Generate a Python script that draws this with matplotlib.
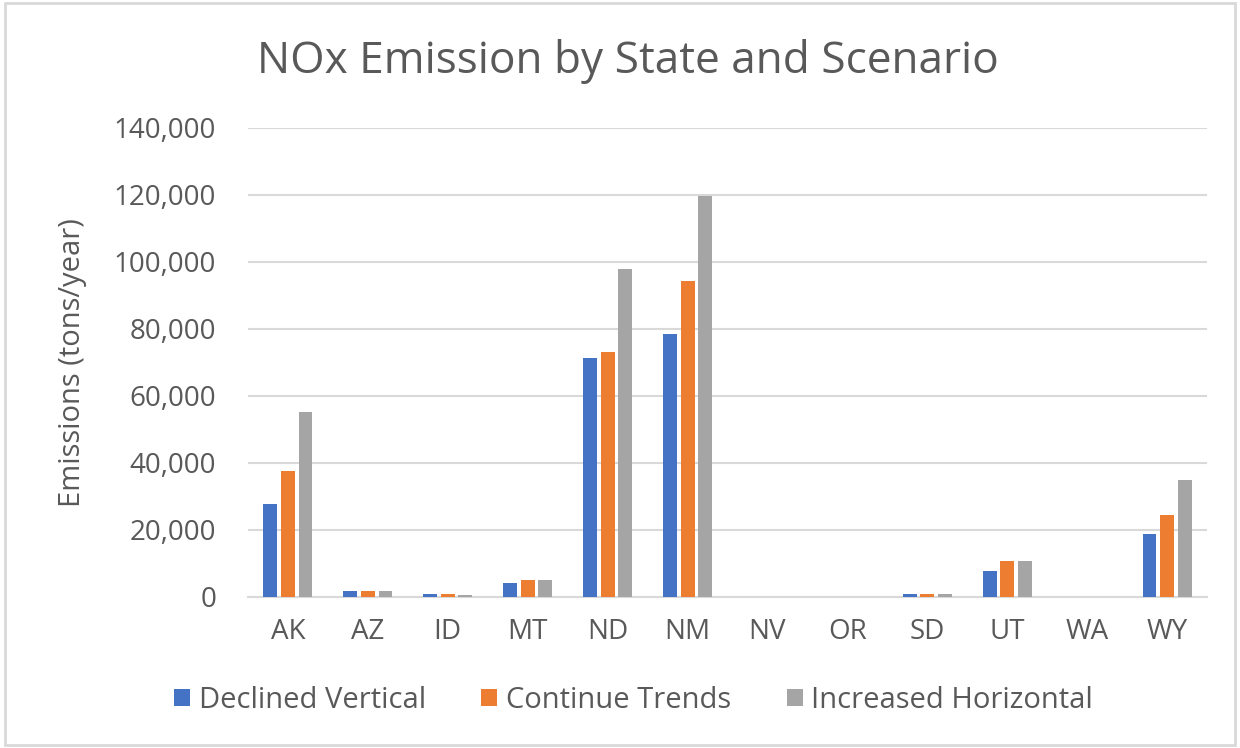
import numpy as np
import matplotlib
matplotlib.use("Agg")
from matplotlib import pyplot as plt
from matplotlib.patches import Rectangle
from matplotlib.ticker import FuncFormatter

plt.rcParams['font.family'] = ['Open Sans', 'DejaVu Sans']

states = ['AK', 'AZ', 'ID', 'MT', 'ND', 'NM', 'NV', 'OR', 'SD', 'UT', 'WA', 'WY']
declined_vertical = [27800, 1800, 900, 4100, 71300, 78500, 0, 0, 800, 7900, 0, 18800]
continue_trends = [37700, 1800, 800, 5100, 73100, 94300, 0, 0, 800, 10700, 0, 24500]
increased_horizontal = [55300, 1800, 700, 5100, 97900, 119700, 0, 0, 800, 10700, 0, 34900]

series_names = ['Declined Vertical', 'Continue Trends', 'Increased Horizontal']
colors = ['#4472C4', '#ED7D31', '#A5A5A5']
text_color = '#595959'

fig = plt.figure(figsize=(12.4, 7.48), dpi=100)
ax = fig.add_axes([0.2, 0.2019, 0.7734, 0.6270])

x = np.arange(len(states))
width = 0.174
step = 0.22
for i, (vals, name, c) in enumerate(zip([declined_vertical, continue_trends, increased_horizontal],
                                        series_names, colors)):
    ax.bar(x + (i - 1) * step, vals, width, color=c, label=name, zorder=3)

ax.set_xlim(-0.5, len(states) - 0.5)
ax.set_ylim(0, 140000)
ax.set_yticks(np.arange(0, 140001, 20000))
ax.yaxis.set_major_formatter(FuncFormatter(lambda v, p: f'{int(v):,}'))
ax.set_xticks(x)
ax.set_xticklabels(states)
ax.grid(axis='y', color='#D9D9D9', linewidth=1.5, zorder=0)
for s in ['top', 'right', 'left']:
    ax.spines[s].set_visible(False)
ax.spines['bottom'].set_color('#D9D9D9')
ax.spines['bottom'].set_linewidth(1.5)
ax.tick_params(axis='both', length=0, labelsize=20, labelcolor=text_color)
ax.tick_params(axis='x', pad=15)
ax.tick_params(axis='y', pad=23)

ax.set_ylabel('Emissions (tons/year)', fontsize=21, color=text_color, labelpad=19)
fig.text(0.506, 0.918, 'NOx Emission by State and Scenario', fontsize=31.8,
         color=text_color, ha='center', va='center')

fig.legend(loc='center', bbox_to_anchor=(0.511, 0.064), ncol=3, frameon=False,
           fontsize=21, handlelength=0.55, handleheight=0.55, handletextpad=0.3,
           columnspacing=1.9, labelcolor=text_color)

fig.patches.append(Rectangle((5 / 1240, 3 / 748), 1230 / 1240, 742 / 748,
                             transform=fig.transFigure, fill=False,
                             edgecolor='#D9D9D9', linewidth=2))

fig.savefig('out.png', dpi=100, facecolor='white')
plt.close(fig)
